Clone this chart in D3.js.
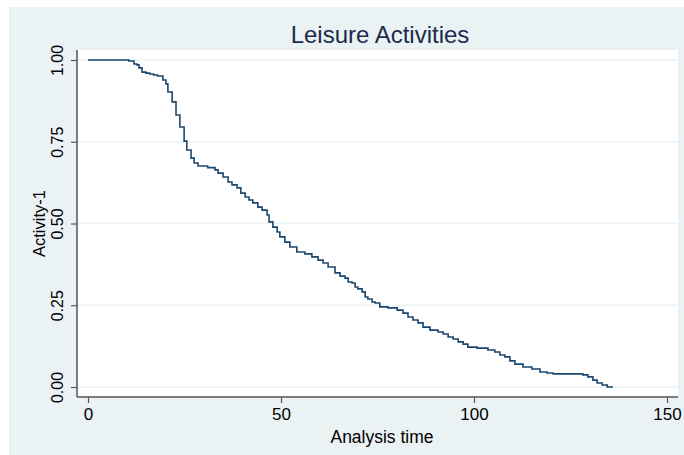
<!DOCTYPE html>
<html>
<head>
<meta charset="utf-8">
<title>Leisure Activities</title>
<script src="https://cdn.jsdelivr.net/npm/d3@7"></script>
<style>
  body { margin: 0; background: #fff; }
  text { font-family: "Liberation Sans", Arial, Helvetica, sans-serif; }
</style>
</head>
<body>
<svg width="684" height="455"></svg>
<script>
// Kaplan-Meier estimate
const times = [0, 10.6, 11.9, 12.7, 13.2, 14.0, 15.0, 16.0, 17.0, 18.0, 19.4, 20.2, 20.7, 21.8, 22.8, 23.8, 24.9, 25.6, 26.7, 27.5, 28.5,
  31.0, 32.9, 33.7, 35.0, 36.3, 37.3, 38.6, 39.6, 40.7, 41.7, 42.7, 44.0, 45.1, 46.4, 46.9, 47.9, 49.0, 49.7, 51.0, 52.3, 54.1,
  56.2, 58.0, 59.6, 60.9, 62.2, 64.0, 65.3, 66.6, 67.4, 68.4, 69.2, 69.9, 71.0, 71.8, 72.5, 73.6, 74.4, 75.6, 77.7, 80.1,
  81.6, 82.9, 84.2, 85.5, 86.8, 88.6, 90.7, 92.0, 93.3, 94.6, 95.9, 97.2, 98.4, 100.8, 101.6, 103.6, 105.4, 106.7, 108.0,
  109.3, 110.6, 112.7, 115.0, 117.1, 118.9, 120.5, 128.2, 129.5, 130.8, 131.9, 133.2, 134.5, 136.0]
const survival = [1.0, 0.997, 0.988, 0.985, 0.976, 0.963, 0.960, 0.957, 0.954, 0.951, 0.939, 0.927, 0.902, 0.872, 0.832, 0.795, 0.752, 0.725, 0.700, 0.685, 0.676,
  0.671, 0.664, 0.654, 0.642, 0.627, 0.618, 0.609, 0.593, 0.581, 0.572, 0.563, 0.550, 0.541, 0.526, 0.505, 0.489, 0.474, 0.459, 0.443, 0.428, 0.413,
  0.407, 0.398, 0.388, 0.379, 0.367, 0.349, 0.339, 0.333, 0.321, 0.318, 0.306, 0.300, 0.291, 0.275, 0.269, 0.260, 0.257, 0.245, 0.242, 0.235,
  0.226, 0.214, 0.205, 0.196, 0.183, 0.174, 0.168, 0.162, 0.153, 0.147, 0.138, 0.131, 0.122, 0.119, 0.119, 0.113, 0.107, 0.098, 0.092,
  0.080, 0.070, 0.061, 0.055, 0.046, 0.043, 0.040, 0.037, 0.031, 0.021, 0.012, 0.006, 0.000, 0.000]
const xTicks = [0, 50, 100, 150]
const yTicks = [0, 0.25, 0.5, 0.75, 1]

const svg = d3.select('svg')
const width = +svg.attr('width')
const height = +svg.attr('height')
const plot = {left: 77, right: 678, top: 50, bottom: 397}

// outer graph region
svg.append('rect')
  .attr('x', 9).attr('y', 7)
  .attr('width', width - 9).attr('height', height - 7)
  .attr('fill', '#eaf2f3')
svg.append('rect')
  .attr('x', plot.left).attr('y', plot.top)
  .attr('width', plot.right - plot.left).attr('height', plot.bottom - plot.top)
  .attr('fill', '#fff')

const xScale = d3.scaleLinear().domain([-2.85, 152.85]).range([plot.left, plot.right])
const yScale = d3.scaleLinear().domain([-0.0306, 1.0306]).range([plot.bottom, plot.top])

// grid
svg.append('g').selectAll('line')
  .data(yTicks)
  .join('line')
  .attr('x1', plot.left).attr('x2', plot.right)
  .attr('y1', d => yScale(d)).attr('y2', d => yScale(d))
  .attr('stroke', '#eaf2f3').attr('stroke-width', 1.5)

// curve
const data = times.map((t, i) => ({t: t, s: survival[i]}))
const line = d3.line()
  .x(d => xScale(d.t))
  .y(d => yScale(d.s))
  .curve(d3.curveStepAfter)
svg.append('path')
  .datum(data)
  .attr('d', line)
  .attr('fill', 'none')
  .attr('stroke', '#1a476f')
  .attr('stroke-width', 1.6)

// axes
const xAxis = svg.append('g')
  .attr('transform', `translate(0, ${plot.bottom})`)
  .call(d3.axisBottom(xScale).tickValues(xTicks).tickSize(6).tickPadding(5).tickFormat(d3.format('d')))
const yAxis = svg.append('g')
  .attr('transform', `translate(${plot.left}, 0)`)
  .call(d3.axisLeft(yScale).tickValues(yTicks).tickSize(6).tickFormat(d3.format('.2f')))

xAxis.select('.domain').attr('d', `M${plot.left},0H${plot.right}`)
yAxis.select('.domain').attr('d', `M0,${plot.top}V${plot.bottom}`)
svg.selectAll('.domain').attr('stroke', '#555').attr('stroke-width', 1.5)
svg.selectAll('.tick line').attr('stroke', '#555').attr('stroke-width', 1.2)

xAxis.selectAll('text')
  .attr('font-size', '17px').attr('fill', '#000')
  .attr('font-family', '"Liberation Sans", Arial, sans-serif')
yAxis.selectAll('text')
  .attr('font-size', '16px').attr('fill', '#000')
  .attr('font-family', '"Liberation Sans", Arial, sans-serif')
  .attr('text-anchor', 'middle')
  .attr('dy', 0).attr('x', 0)
  .attr('transform', 'translate(-14, 0) rotate(-90)')

// titles
svg.append('text')
  .attr('x', 380).attr('y', 43)
  .attr('text-anchor', 'middle')
  .attr('font-size', '24px')
  .attr('fill', '#1a2b4c')
  .text('Leisure Activities')

svg.append('text')
  .attr('x', 382).attr('y', 443)
  .attr('text-anchor', 'middle')
  .attr('font-size', '17.5px')
  .attr('fill', '#000')
  .text('Analysis time')

svg.append('text')
  .attr('transform', `translate(45, ${yScale(0.5)}) rotate(-90)`)
  .attr('text-anchor', 'middle')
  .attr('font-size', '16.5px')
  .attr('fill', '#000')
  .text('Activity-1')
</script>
</body>
</html>
